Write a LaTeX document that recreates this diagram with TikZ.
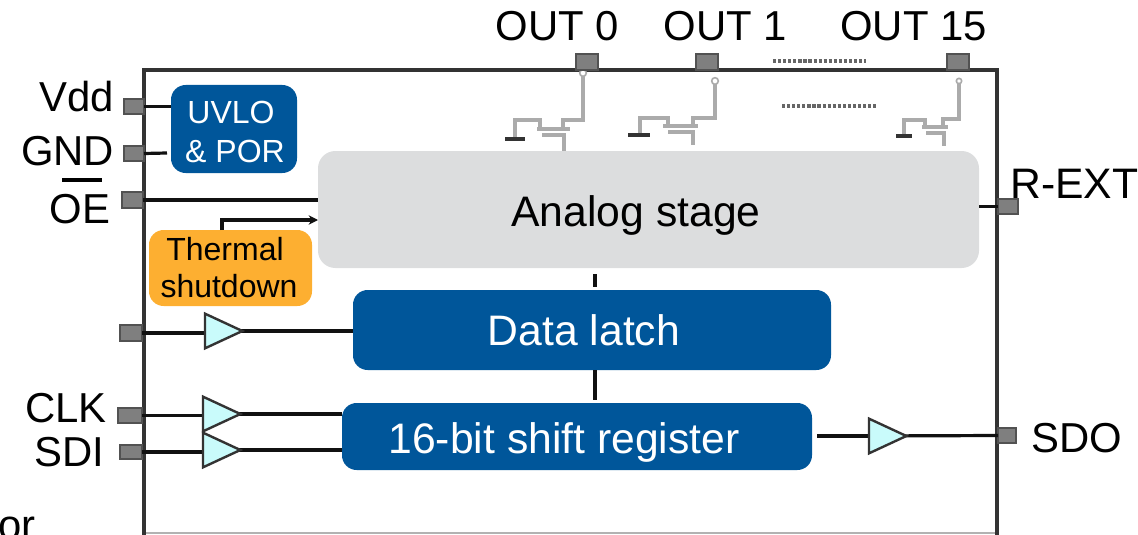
\documentclass[tikz,border=0pt]{standalone}
\usepackage{fontspec}
\setmainfont{Liberation Sans}
\usetikzlibrary{shapes.geometric,arrows.meta}
\definecolor{bluebox}{HTML}{00569A}
\definecolor{greybox}{HTML}{DCDDDE}
\definecolor{orangebox}{HTML}{FDAF31}
\definecolor{padfill}{HTML}{7F7F7F}
\definecolor{bufffill}{HTML}{C9FBFB}
\definecolor{wire}{HTML}{111111}
\definecolor{framec}{HTML}{333333}
\definecolor{fet}{HTML}{ABABAB}
\tikzset{
  x=0.75pt,y=-0.75pt,
  bigtext/.style={font=\fontsize{32pt}{36pt}\selectfont,inner sep=0pt,anchor=base},
  pintext/.style={font=\fontsize{31.4pt}{36pt}\selectfont,inner sep=0pt,anchor=base},
  smalltext/.style={font=\fontsize{24pt}{28pt}\selectfont,inner sep=0pt,anchor=base},
  blockbox/.style={rounded corners=11pt,inner sep=0pt,outer sep=0pt,draw=none},
  padbox/.style={draw=framec!85,fill=padfill,line width=1.4pt,inner sep=0pt,outer sep=0pt},
  wireline/.style={draw=wire,line width=2.4pt},
  buffer/.style={isosceles triangle,isosceles triangle stretches,shape border rotate=0,
    draw=framec,fill=bufffill,line width=1.8pt,inner sep=0pt,outer sep=0pt,
    minimum width=26pt,minimum height=28pt,anchor=lower side},
  fetline/.style={draw=fet,line width=2.4pt},
  fetdark/.style={draw=framec,line width=2.4pt},
  dotline/.style={draw=black!60,line width=2.6pt,dash pattern=on 2.4pt off 1.4pt},
}
\begin{document}
\begin{tikzpicture}
\useasboundingbox (0,0) rectangle (1138,535);
\clip (0,0) rectangle (1138,535);

% frame
\draw[draw=black!30,line width=1pt] (144,533) -- (997,533);
\draw[draw=framec,line width=2.6pt] (144,560) -- (144,70) -- (997,70) -- (997,560);

% transistors
\draw[fetline] (583,75) -- (583,120) -- (563,120) -- (563,127);
\draw[fetline] (537,129) -- (570,129);
\draw[fetline] (540,127) -- (540,120) -- (515,120) -- (515,139);
\draw[fetline] (542,135) -- (564,135) -- (564,151);
\draw[fetdark] (505,139) -- (525,139);
\draw[fetline,fill=white,line width=1.2pt] (583,73) circle (2.5pt);

\draw[fetline] (715,83) -- (715,118) -- (693,118) -- (693,126);
\draw[fetline] (663,126) -- (698,126);
\draw[fetline] (668,124) -- (668,118) -- (640,118) -- (640,135);
\draw[fetline] (668,132) -- (693,132) -- (693,145);
\draw[fetdark] (628,135) -- (650,135);
\draw[fetline,fill=white,line width=1.2pt] (715,81) circle (2.5pt);

\draw[fetline] (959,83) -- (959,119) -- (943,119) -- (943,127);
\draw[fetline] (922,127) -- (948,127);
\draw[fetline] (925,125) -- (925,120) -- (904,120) -- (904,136);
\draw[fetline] (926,133) -- (944,133) -- (944,146);
\draw[fetdark] (896,136) -- (912,136);
\draw[fetline,fill=white,line width=1.2pt] (959,81) circle (2pt);

\draw[dotline] (773,61) -- (866,61);
\draw[dotline] (782,106) -- (877,106);

% blocks
\node[blockbox,fill=bluebox,minimum width=94.5pt,minimum height=66pt] (uvlo) at (234,129) {};
\node[blockbox,fill=greybox,rounded corners=13pt,minimum width=495.75pt,minimum height=87.75pt] (analog) at (648.5,209.5) {};
\node[blockbox,fill=orangebox,minimum width=122.25pt,minimum height=57pt] (thermal) at (230.5,268) {};
\node[blockbox,fill=bluebox,minimum width=358.5pt,minimum height=60pt] (latch) at (592,330) {};
\node[blockbox,fill=bluebox,minimum width=352.5pt,minimum height=50.25pt] (shift) at (577,436.5) {};

% pads
\node[padbox,minimum width=16.5pt,minimum height=11.5pt] (pout0) at (587,62) {};
\node[padbox,minimum width=16.5pt,minimum height=11.5pt] (pout1) at (707,62) {};
\node[padbox,minimum width=16.5pt,minimum height=11.5pt] (pout15) at (958,62) {};
\node[padbox,minimum width=15pt,minimum height=11.5pt] (pvdd) at (134,106.5) {};
\node[padbox,minimum width=15pt,minimum height=11.5pt] (pgnd) at (134,153.5) {};
\node[padbox,minimum width=15.75pt,minimum height=12pt] (poe) at (132.5,200) {};
\node[padbox,minimum width=16.5pt,minimum height=12pt] (plat) at (131,333) {};
\node[padbox,minimum width=18pt,minimum height=11.5pt] (pclk) at (130,415.5) {};
\node[padbox,minimum width=16.5pt,minimum height=10.5pt] (psdi) at (131,452) {};
\node[padbox,minimum width=15pt,minimum height=11.5pt] (prext) at (1008,206.5) {};
\node[padbox,minimum width=13.5pt,minimum height=11.5pt] (psdo) at (1007,435.5) {};

% connectors
\coordinate (gndend) at (167,153);
\coordinate (thermtop) at (222,220);
\coordinate (anatop) at (595,274);
\coordinate (latbot) at (595,287);
\coordinate (latout) at (595,370);
\coordinate (shin) at (595,400);
\coordinate (shout) at (817,436);
\coordinate (bl) at (205,331);
\coordinate (bc) at (203,414);
\coordinate (bs) at (203,450);
\coordinate (bo) at (869,436);
\draw[wireline] (pvdd.east) -- (uvlo.west |- pvdd.east);
\draw[wireline] (pgnd.east) -- (gndend);
\draw[wireline] (poe.east) -- (analog.west |- poe.east);
\draw[wireline,-{Stealth[length=7pt,width=7pt]}] (thermal.north -| thermtop) -- (thermtop) -- (analog.west |- thermtop);
\draw[wireline] (prext.west) -- (analog.east |- prext.west);
\draw[wireline,line width=3.4pt] (anatop) -- (latbot);
\draw[wireline,line width=3.4pt] (latout) -- (shin);
\draw[wireline] (plat.east) -- (bl |- plat.east);
\draw[wireline] (bl) -- (latch.west |- bl);
\draw[wireline] (pclk.east) -- (bc |- pclk.east);
\draw[wireline] (bc) -- (shift.west |- bc);
\draw[wireline] (psdi.east) -- (bs |- psdi.east);
\draw[wireline] (bs) -- (shift.west |- bs);
\draw[wireline] (shout) -- (bo);
\draw[wireline] (bo) -- (psdo.west);

% buffers
\node[buffer] (blat) at (bl) {};
\node[buffer] (bclk) at (bc) {};
\node[buffer] (bsdi) at (bs) {};
\node[buffer] (bsdo) at (bo) {};

% block labels
\node[smalltext,text=white] (tuv) at (231,123) {UVLO};
\node[smalltext,text=white] (tpor) at (235,162) {\& POR};
\node[smalltext,text=black] (tth) at (225,260) {Thermal};
\node[smalltext,text=black] (tsh) at (229,297) {shutdown};
\node[bigtext,text=black] (tan) at (636,226) {Analog stage};
\node[bigtext,text=white] (tla) at (584,345) {Data latch};
\node[bigtext,text=white] (tsr) at (564,453) {16-bit shift register};

% pin labels
\node[pintext] (lo0) at (557.5,41) {OUT 0};
\node[pintext] (lo1) at (725.5,41) {OUT 1};
\node[pintext] (lo15) at (913.5,41) {OUT 15};
\node[pintext,anchor=base east] (lvdd) at (114.5,112) {Vdd};
\node[pintext,anchor=base east] (lgnd) at (114.5,165) {GND};
\node[pintext,anchor=base east] (loe) at (110.5,223) {OE};
\node[draw=none,fill=black,inner sep=0pt,minimum width=30pt,minimum height=3.6pt] (oebar) at (82,180) {};
\node[bigtext,anchor=base west] (lrext) at (1010,198) {R-EXT};
\node[pintext,anchor=base west] (lsdo) at (1031,452) {SDO};
\node[pintext,anchor=base east] (lclk) at (107,422) {CLK};
\node[pintext,anchor=base east] (lsdi) at (104.5,466) {SDI};
\node[pintext,anchor=base east] (lor) at (36,539) {or};
\end{tikzpicture}
\end{document}
